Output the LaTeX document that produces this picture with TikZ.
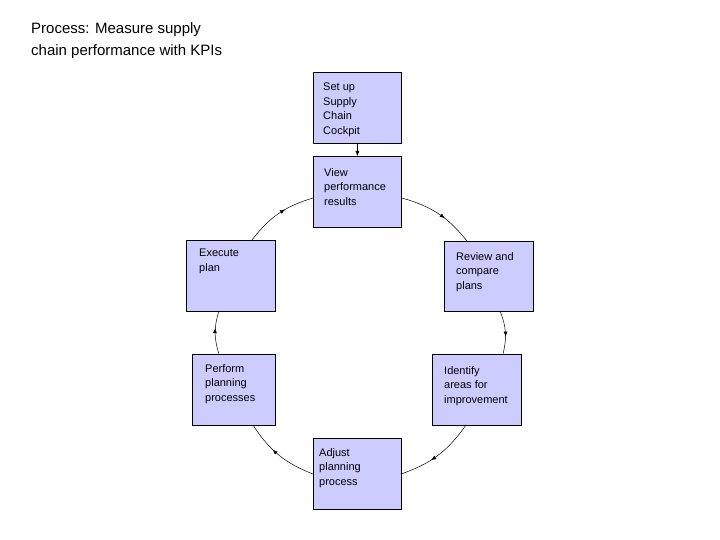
\documentclass[tikz,border=0pt]{standalone}
\usepackage{fontspec}
\setmainfont{Liberation Sans}
\usetikzlibrary{decorations.markings,arrows.meta}
\begin{document}
\begin{tikzpicture}[x=1pt,y=-1pt,
  box/.style={draw, line width=0.8pt, fill={rgb,255:red,204;green,204;blue,255}, minimum width=88pt, minimum height=71pt, inner sep=0pt, anchor=north west},
  txt/.style={anchor=north west, align=left, inner sep=0pt, font=\fontsize{11}{14.5}\selectfont},
  flow/.style={line width=0.5pt, postaction={decorate}, decoration={markings, mark=at position 0.6 with {\arrow{Latex[length=5pt,width=4pt]}}}}]
\useasboundingbox (0,0) rectangle (720,540);
\node[anchor=north west, align=left, inner sep=0pt, font=\fontsize{15}{22}\selectfont] (title) at (31,22) {Process: Measure supply\\chain performance with KPIs};
\node[box] (setup) at (313,72) {};
\node[txt] at (323,83) {Set up\\Supply\\Chain\\Cockpit};
\node[box] (view) at (313,156) {};
\node[txt] at (324,168) {View\\performance\\results};
\node[box, minimum width=89pt, minimum height=70pt] (review) at (444,241) {};
\node[txt] at (456,252) {Review and\\compare\\plans};
\node[box, minimum width=89pt] (ident) at (432,354) {};
\node[txt] at (444,366) {Identify\\areas for\\improvement};
\node[box] (adjust) at (313,438) {};
\node[txt] at (319,448) {Adjust\\planning\\process};
\node[box, minimum width=83pt] (perform) at (192,354) {};
\node[txt] at (205,364) {Perform\\planning\\processes};
\node[box, minimum width=89pt] (exec) at (186,240) {};
\node[txt] at (199,249) {Execute\\plan};
\draw[line width=0.5pt, -{Latex[length=5pt,width=4pt]}] (setup.south) -- (view.north);
\draw[flow] (view.east |- 0,198) to[bend left=18] (467,241);
\draw[flow] (500,311) to[bend left=18] (503,354);
\draw[flow] (466,425) to[bend left=18] (401,474);
\draw[flow] (313,474) to[bend left=18] (253,425);
\draw[flow] (219,354) to[bend left=18] (219,311);
\draw[flow] (252,240) to[bend left=18] (313,198);
\end{tikzpicture}
\end{document}
